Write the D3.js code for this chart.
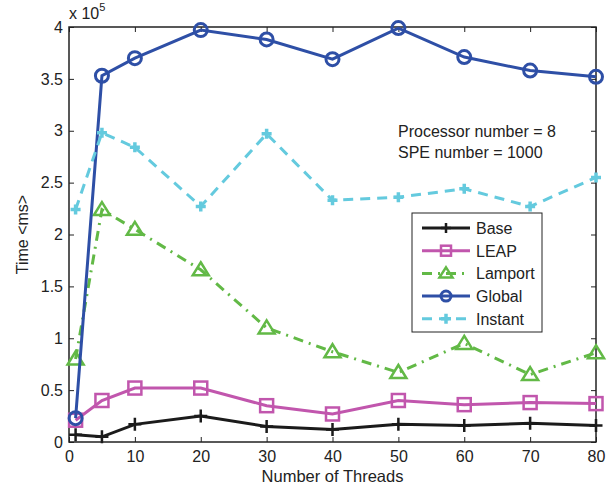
<!DOCTYPE html>
<head>
<meta charset="utf-8">
<style>
body { margin: 0; background: #fff; }
svg { display: block; font-family: "Liberation Sans", Arial, Helvetica, sans-serif; }
.tick text { font-size: 16px; fill: #222; }
</style>
</head>
<body>
<svg width="615" height="487"></svg>
<script src="https://d3js.org/d3.v7.min.js"></script>
<script>

// thread counts on the x axis
var threads = [1, 5, 10, 20, 30, 40, 50, 60, 70, 80];

// times in units of 10^5 ms
var base    = [0.07, 0.05, 0.17, 0.25, 0.15, 0.12, 0.17, 0.16, 0.18, 0.16];
var leap    = [0.21, 0.40, 0.52, 0.52, 0.35, 0.27, 0.40, 0.36, 0.38, 0.37];
var lamport = [0.80, 2.24, 2.05, 1.66, 1.10, 0.87, 0.67, 0.95, 0.65, 0.86];
var global  = [0.23, 3.53, 3.70, 3.97, 3.88, 3.69, 3.99, 3.71, 3.58, 3.52];
var instant = [2.24, 2.98, 2.84, 2.27, 2.97, 2.33, 2.36, 2.44, 2.27, 2.55];

var xTicks = [0, 10, 20, 30, 40, 50, 60, 70, 80];
var yTicks = [0, 0.5, 1, 1.5, 2, 2.5, 3, 3.5, 4];

var series = [
  {name: "Base",    values: base,    color: "#1b1b1b", dash: null,        marker: "plus"},
  {name: "LEAP",    values: leap,    color: "#c156ad", dash: null,        marker: "square"},
  {name: "Lamport", values: lamport, color: "#62b946", dash: "10,6,2,6",  marker: "triangle"},
  {name: "Global",  values: global,  color: "#2e4fa6", dash: null,        marker: "circle"},
  {name: "Instant", values: instant, color: "#64cade", dash: "10,7",      marker: "cross"}
];

var svg = d3.select("svg"),
    margin = {top: 27, right: 19, bottom: 45, left: 69},
    width = 615 - margin.left - margin.right,
    height = 487 - margin.top - margin.bottom;

var g = svg.append("g").attr("transform", "translate(" + margin.left + "," + margin.top + ")");

var x = d3.scaleLinear().domain([0, 80]).range([0, width]);
var y = d3.scaleLinear().domain([0, 4]).range([height, 0]);

// axes, MATLAB style: ticks pointing inward on all four sides
g.append("g")
    .attr("transform", "translate(0," + height + ")")
    .call(d3.axisBottom(x).tickValues(xTicks).tickSizeInner(-5).tickSizeOuter(0).tickPadding(9))
    .call(function(a) { a.select(".domain").remove(); });

g.append("g")
    .call(d3.axisLeft(y).tickValues(yTicks).tickFormat(d3.format("")).tickSizeInner(-5).tickSizeOuter(0).tickPadding(6))
    .call(function(a) { a.select(".domain").remove(); });

g.append("g")
    .call(d3.axisTop(x).tickValues(xTicks).tickFormat("").tickSizeInner(-5).tickSizeOuter(0))
    .call(function(a) { a.select(".domain").remove(); });

g.append("g")
    .attr("transform", "translate(" + width + ",0)")
    .call(d3.axisRight(y).tickValues(yTicks).tickFormat("").tickSizeInner(-5).tickSizeOuter(0))
    .call(function(a) { a.select(".domain").remove(); });

g.selectAll(".tick line").attr("stroke", "#222");

g.append("rect")
    .attr("width", width).attr("height", height)
    .attr("fill", "none").attr("stroke", "#222").attr("stroke-width", 1.5);

// markers
function drawMarker(sel, type, color, s) {
  if (type === "plus") {
    sel.append("path").attr("d", "M" + (-s) + ",0H" + s + "M0," + (-s) + "V" + s)
      .attr("stroke", color).attr("stroke-width", 2.5).attr("fill", "none");
  } else if (type === "cross") {
    sel.append("path").attr("d", "M" + (-s) + ",0H" + s + "M0," + (-s) + "V" + s)
      .attr("stroke", color).attr("stroke-width", 3.5).attr("fill", "none");
  } else if (type === "square") {
    sel.append("rect").attr("x", -s).attr("y", -s).attr("width", 2 * s).attr("height", 2 * s)
      .attr("stroke", color).attr("stroke-width", 2.5).attr("fill", "none");
  } else if (type === "circle") {
    sel.append("circle").attr("r", s)
      .attr("stroke", color).attr("stroke-width", 3).attr("fill", "none");
  } else if (type === "triangle") {
    sel.append("path").attr("d", "M0," + (-s - 1) + "L" + (s + 1.5) + "," + (s - 1) + "L" + (-s - 1.5) + "," + (s - 1) + "Z")
      .attr("stroke", color).attr("stroke-width", 2.5).attr("fill", "none");
  }
}

var line = d3.line()
    .x(function(d) { return x(d.t); })
    .y(function(d) { return y(d.v); });

series.forEach(function(s) {
  var pts = threads.map(function(t, i) { return {t: t, v: s.values[i]}; });
  g.append("path")
      .datum(pts)
      .attr("d", line)
      .attr("fill", "none")
      .attr("stroke", s.color)
      .attr("stroke-width", 3)
      .attr("stroke-dasharray", s.dash);
  g.selectAll(null)
      .data(pts)
      .enter().append("g")
      .attr("transform", function(d) { return "translate(" + x(d.t) + "," + y(d.v) + ")"; })
      .each(function() { drawMarker(d3.select(this), s.marker, s.color, s.marker === "circle" ? 6.5 : s.marker === "cross" ? 5 : 6.5); });
});

// axis titles
svg.append("text")
    .attr("x", margin.left + width / 2).attr("y", 482)
    .attr("text-anchor", "middle").attr("font-size", 16.5).attr("fill", "#222")
    .text("Number of Threads");

svg.append("text")
    .attr("transform", "translate(28," + (margin.top + height / 2) + ") rotate(-90)")
    .attr("text-anchor", "middle").attr("font-size", 16).attr("fill", "#222")
    .text("Time <ms>");

var exp = svg.append("text").attr("x", 69).attr("y", 19).attr("font-size", 16).attr("fill", "#222");
exp.append("tspan").text("x 10");
exp.append("tspan").attr("dy", -8).attr("font-size", 11).text("5");

// annotation
svg.append("text").attr("x", 398).attr("y", 137).attr("font-size", 16).attr("fill", "#222").text("Processor number = 8");
svg.append("text").attr("x", 398).attr("y", 158).attr("font-size", 16).attr("fill", "#222").text("SPE number = 1000");

// legend
var lg = svg.append("g").attr("transform", "translate(412,213)");
lg.append("rect").attr("width", 130).attr("height", 119)
    .attr("fill", "#fff").attr("stroke", "#222").attr("stroke-width", 1);

series.forEach(function(s, i) {
  var row = lg.append("g").attr("transform", "translate(0," + (15 + i * 22.7) + ")");
  row.append("line").attr("x1", 10).attr("x2", 58).attr("y1", 0).attr("y2", 0)
      .attr("stroke", s.color).attr("stroke-width", 3).attr("stroke-dasharray", s.dash);
  var m = row.append("g").attr("transform", "translate(34,0)");
  drawMarker(m, s.marker, s.color, 5);
  row.append("text").attr("x", 64).attr("y", 6).attr("font-size", 16).attr("fill", "#222").text(s.name);
});

</script>
</body>
